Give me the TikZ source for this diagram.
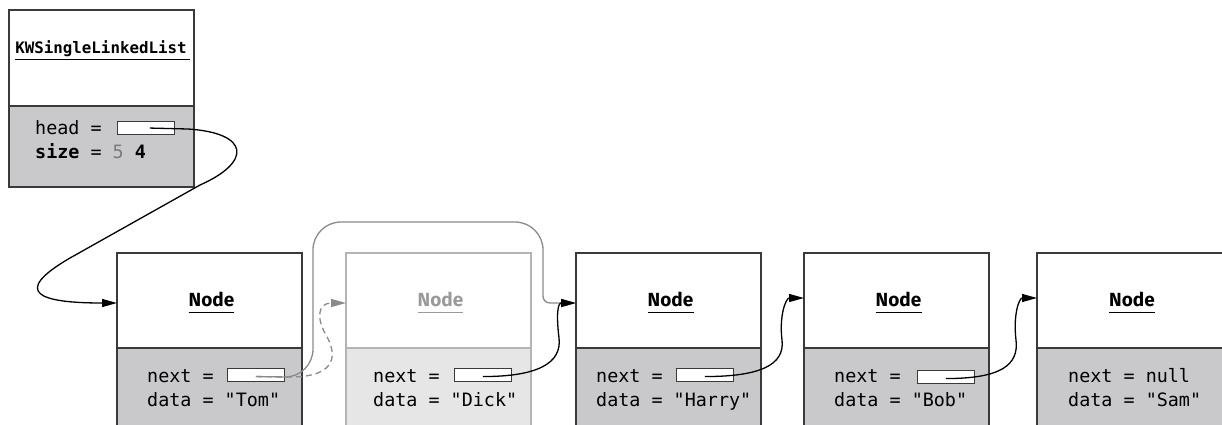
\documentclass[tikz,border=0pt]{standalone}
\usepackage{fontspec}
\usetikzlibrary{arrows.meta,calc}
\newfontfamily\codefont[Ligatures=TeXOff]{DejaVu Sans Mono}
\newfontfamily\labelfont{Fira Sans}
\definecolor{boxline}{HTML}{3A3A3A}
\definecolor{slot}{HTML}{C9C9CB}
\definecolor{fadeline}{HTML}{B4B4B4}
\definecolor{fadeslot}{HTML}{E6E6E7}
\definecolor{fadetext}{HTML}{9A9A9A}
\definecolor{linkgray}{HTML}{8A8A8A}
\definecolor{oldval}{HTML}{7A7A7A}

\begin{document}
\begin{tikzpicture}[x=1pt,y=-1pt,
  upper/.style={draw=boxline,line width=1.3pt,fill=white,minimum width=185pt,
    minimum height=95pt,inner sep=0pt,outer sep=0pt,anchor=north west},
  lower/.style={upper,fill=slot},
  fadeupper/.style={upper,draw=fadeline},
  fadelower/.style={upper,draw=fadeline,fill=fadeslot},
  code/.style={font=\codefont\fontsize{18.4}{22}\selectfont,inner sep=0pt,anchor=base west},
  ttl/.style={font=\labelfont\bfseries\fontsize{19}{23}\selectfont,inner sep=0pt,anchor=base},
  uline/.style={line width=0.9pt},
  ptr/.style={draw=boxline,fill=white,line width=0.9pt,minimum width=57pt,
    minimum height=13pt,inner sep=0pt,anchor=south west},
  link/.style={line width=1.3pt,-{Triangle[length=15pt,width=8pt]}},
  glink/.style={link,color=linkgray}
]
\path[use as bounding box] (0,0) rectangle (1222,424);
\clip (0,0) rectangle (1222,424);

% ---- list object ----
\node[lower,minimum height=81pt] (kwbot) at (9,106) {};
\node[upper,minimum height=96pt] (kwtop) at (9,10) {};
\node[code,font=\codefont\bfseries\fontsize{15.8}{19}\selectfont,anchor=base] (kwname) at (101,53) {KWSingleLinkedList};
\draw[uline] ($(kwname.base west)+(0,6)$) -- ($(kwname.base east)+(3,6)$);
\node[code] (headlbl) at (35,134) {head =};
\node[ptr] (headp) at ($(headlbl.base west)+(82,1)$) {};
\node[code] (sizelbl) at (35,158) {\textbf{size} = {\color{oldval}5} \textbf{4}};

% ---- Tom ----
\node[lower] (tomb) at (117,348) {};
\node[upper] (tomt) at (117,253) {};
\node[ttl] (tomttl) at ($(tomt.south)+(2,-42)$) {Node};
\draw[uline] ($(tomttl.base west)+(0,6)$) -- ($(tomttl.base east)+(0,6)$);
\node[code] (tomn) at (147,382) {next =};
\node[ptr] (tomp) at ($(tomn.base west)+(80,0)$) {};
\node[code] (tomd) at (147,406) {data = "Tom"};

% ---- Dick (unlinked) ----
\node[fadelower] (dickb) at (346,348) {};
\node[fadeupper] (dickt) at (346,253) {};
\node[ttl,text=fadetext] (dickttl) at ($(dickt.south)+(2,-42)$) {Node};
\draw[uline,fadetext] ($(dickttl.base west)+(0,6)$) -- ($(dickttl.base east)+(0,6)$);
\node[code] (dickn) at (373,382) {next =};
\node[ptr] (dickp) at ($(dickn.base west)+(81,0)$) {};
\node[code] (dickd) at (373,406) {data = "Dick"};

% ---- Harry ----
\node[lower] (harryb) at (576,348) {};
\node[upper] (harryt) at (576,253) {};
\node[ttl] (harryttl) at ($(harryt.south)+(2,-42)$) {Node};
\draw[uline] ($(harryttl.base west)+(0,6)$) -- ($(harryttl.base east)+(0,6)$);
\node[code] (harryn) at (596,382) {next =};
\node[ptr] (harryp) at ($(harryn.base west)+(80,0)$) {};
\node[code] (harryd) at (596,406) {data = "Harry"};

% ---- Bob ----
\node[lower] (bobb) at (804,348) {};
\node[upper] (bobt) at (804,253) {};
\node[ttl] (bobttl) at ($(bobt.south)+(2,-42)$) {Node};
\draw[uline] ($(bobttl.base west)+(0,6)$) -- ($(bobttl.base east)+(0,6)$);
\node[code] (bobn) at (834,382) {next =};
\node[ptr] (bobp) at ($(bobn.base west)+(83,2)$) {};
\node[code] (bobd) at (834,406) {data = "Bob"};

% ---- Sam ----
\node[lower,minimum width=186pt] (samb) at (1037,348) {};
\node[upper,minimum width=186pt] (samt) at (1037,253) {};
\node[ttl] (samttl) at ($(samt.south)+(2,-42)$) {Node};
\draw[uline] ($(samttl.base west)+(0,6)$) -- ($(samttl.base east)+(0,6)$);
\node[code] (samn) at (1068,382) {next = null};
\node[code] (samd) at (1068,406) {data = "Sam"};

% ---- pointer origins and targets ----
\coordinate (heads) at ($(headp.center)+(4,0)$);
\coordinate (toms) at ($(tomp.center)+(0,1.5)$);
\coordinate (dicks) at ($(dickp.center)+(0,1.5)$);
\coordinate (harrys) at ($(harryp.center)+(0,1.5)$);
\coordinate (bobs) at ($(bobp.center)+(0,1.5)$);
\coordinate (tomin) at ($(tomt.west)+(0,2.5)$);
\coordinate (dickin) at ($(dickt.west)+(0,2.5)$);
\coordinate (harryin) at ($(harryt.west)+(0,2.5)$);
\coordinate (bobin) at ($(bobt.west)+(0,-2.5)$);
\coordinate (samin) at ($(samt.west)+(0,-2.5)$);

% head -> Tom
\draw[link] (heads) -- (188,129) .. controls (250,133) and (252,162) .. (200,185)
  -- (70,258) .. controls (10,293) and (40,303) .. (tomin);

% old link Tom -> Dick (removed)
\draw[glink,dash pattern=on 6pt off 4pt] (toms) -- (290,377)
  .. controls (340,377) and (336,352) .. (326,335)
  .. controls (316,318) and (318,303) .. (dickin);

% new link Tom -> Harry, bypassing Dick
\draw[glink] (toms) -- (285,377) .. controls (300.5,377) and (313,364.5) .. (313,349)
  -- (313,250) .. controls (313,234.5) and (325.5,222) .. (341,222)
  -- (515,222) .. controls (530.5,222) and (543,234.5) .. (543,250)
  -- (543,296) .. controls (543,300) and (546,303) .. (550,303) -- (harryin);

% remaining next links
\draw[link] (dicks) .. controls +(55,0) and +(3,25) .. (559,338)
  .. controls +(-3,-25) and +(-18,0) .. (harryin);
\draw[link] (harrys) .. controls +(55,0) and +(3,25) .. (782,340)
  .. controls +(-3,-25) and +(-18,0) .. (bobin);
\draw[link] (bobs) .. controls +(55,0) and +(3,25) .. (1016,340)
  .. controls +(-3,-25) and +(-18,0) .. (samin);
\end{tikzpicture}
\end{document}
